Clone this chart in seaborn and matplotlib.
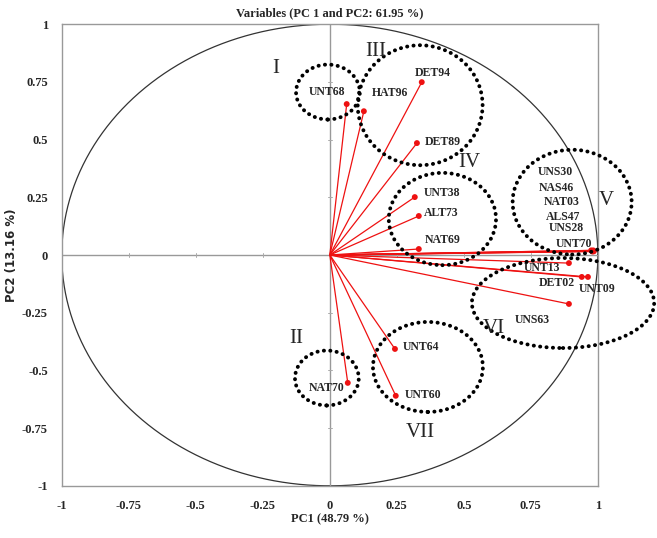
import numpy as np
import pandas as pd
import seaborn as sns
import matplotlib.pyplot as plt
from matplotlib.patches import Ellipse

# variable loadings on PC1 / PC2
variables = ["UNT68", "HAT96", "DET94", "DET89", "UNT38", "ALT73", "NAT69",
             "UNS30", "NAS46", "NAT03", "ALS47", "UNS28", "UNT70",
             "UNT13", "DET02", "UNT09", "UNS63", "UNT64", "UNT60", "NAT70"]
pc1 = [0.063, 0.127, 0.343, 0.325, 0.317, 0.332, 0.332,
       0.975, 0.978, 0.980, 0.983, 0.985, 0.981,
       0.892, 0.940, 0.963, 0.892, 0.243, 0.246, 0.067]
pc2 = [0.654, 0.623, 0.749, 0.485, 0.251, 0.169, 0.026,
       0.020, 0.018, 0.015, 0.020, 0.016, 0.017,
       -0.035, -0.095, -0.095, -0.212, -0.407, -0.610, -0.554]

# where each name is written (centre of text)
label_pos = {
    "UNT68": (-0.01, 0.706), "HAT96": (0.224, 0.70), "DET94": (0.384, 0.79),
    "DET89": (0.42, 0.49), "UNT38": (0.418, 0.268), "ALT73": (0.414, 0.18),
    "NAT69": (0.42, 0.065), "UNS30": (0.843, 0.36), "NAS46": (0.847, 0.29),
    "NAT03": (0.866, 0.23), "ALS47": (0.869, 0.165), "UNS28": (0.884, 0.117),
    "UNT70": (0.91, 0.048), "UNT13": (0.79, -0.056), "DET02": (0.847, -0.12),
    "UNT09": (0.996, -0.147), "UNS63": (0.754, -0.28), "UNT64": (0.34, -0.398),
    "UNT60": (0.347, -0.606), "NAT70": (-0.011, -0.576),
}

# groups: name, centre, half widths, label position
groups = ["I", "II", "III", "IV", "V", "VI", "VII"]
group_centre = [(-0.007, 0.706), (-0.011, -0.533), (0.337, 0.649), (0.42, 0.156),
                (0.904, 0.229), (0.87, -0.208), (0.366, -0.485)]
group_radius = [(0.119, 0.119), (0.119, 0.119), (0.233, 0.26), (0.2, 0.2),
                (0.222, 0.227), (0.34, 0.195), (0.205, 0.195)]
group_label = [(-0.2, 0.81), (-0.127, -0.36), (0.17, 0.88), (0.52, 0.40),
               (1.03, 0.235), (0.61, -0.32), (0.336, -0.77)]

ticks = [-1, -0.75, -0.5, -0.25, 0, 0.25, 0.5, 0.75, 1]
tick_labels = ["-1", "-0.75", "-0.5", "-0.25", "0", "0.25", "0.5", "0.75", "1"]

df = pd.DataFrame({"var": variables, "PC1": pc1, "PC2": pc2})

sns.set_style("white")
plt.rcParams["font.family"] = ["Liberation Serif", "DejaVu Serif"]

fig = plt.figure(figsize=(6.57, 5.38), dpi=100)
ax = fig.add_axes([0.094, 0.097, 0.816, 0.858])

# correlation circle
t = np.linspace(0, 2 * np.pi, 400)
ax.plot(np.cos(t), np.sin(t), color="#333333", lw=0.9, zorder=1)

# zero axes
ax.axhline(0, color="#999999", lw=1, zorder=1)
ax.axvline(0, color="#999999", lw=1, zorder=1)
for v in ticks:
    if v != 0:
        ax.plot([v, v], [-0.01, 0.01], color="#aaaaaa", lw=0.7, zorder=1)
        ax.plot([-0.008, 0.008], [v, v], color="#aaaaaa", lw=0.7, zorder=1)

# vectors
for x, y in zip(df["PC1"], df["PC2"]):
    ax.plot([0, x], [0, y], color="#ee1111", lw=0.9, zorder=2)
sns.scatterplot(data=df, x="PC1", y="PC2", color="#ee1111", s=18,
                edgecolor="none", zorder=3, ax=ax)

for name in variables:
    lx, ly = label_pos[name]
    ax.text(lx, ly, name, ha="center", va="center", fontsize=8.5,
            fontweight="bold", zorder=4)

for g, c, r, lp in zip(groups, group_centre, group_radius, group_label):
    e = Ellipse(c, 2 * r[0], 2 * r[1], fill=False, ec="black",
                lw=2.8, ls=(0, (0.05, 1.6)), zorder=4, clip_on=False)
    e.set_capstyle("round")
    ax.add_patch(e)
    ax.text(lp[0], lp[1], g, ha="center", va="center", fontsize=15, zorder=4)

ax.set_xlim(-1, 1)
ax.set_ylim(-1, 1)
ax.set_xticks(ticks)
ax.set_xticklabels(tick_labels, fontweight="bold", fontsize=9)
ax.set_yticks(ticks)
ax.set_yticklabels(tick_labels, fontweight="bold", fontsize=9)
ax.tick_params(length=0, pad=10)
for s in ax.spines.values():
    s.set_color("#999999")
    s.set_linewidth(1)

ax.set_xlabel("PC1 (48.79 %)", fontweight="bold", fontsize=9, labelpad=1)
ax.set_ylabel("PC2 (13.16 %)", fontweight="bold", fontsize=8.5,
              family="DejaVu Sans")
ax.yaxis.set_label_coords(-0.082, 0.5)
ax.set_title("Variables (PC 1 and PC2: 61.95 %)", fontweight="bold",
             fontsize=9, pad=6)

fig.savefig("out.png", dpi=100)
